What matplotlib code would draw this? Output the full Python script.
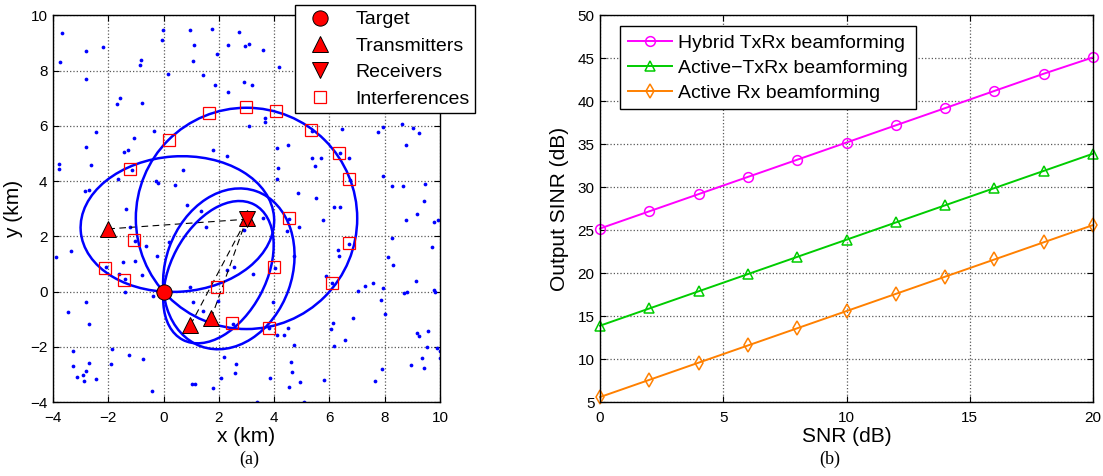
import numpy as np
import matplotlib
matplotlib.use('Agg')
import matplotlib.pyplot as plt
from matplotlib.patches import Ellipse
from matplotlib.lines import Line2D

plt.rcParams['font.family'] = ['Liberation Sans', 'DejaVu Sans']

# ---- panel (a): scene ----
target = (0.0, 0.0)
rx = (3.0, 2.62)
tx_x = [-2.0, 0.97, 1.72, 3.0]
tx_y = [2.27, -1.21, -0.97, 2.68]

intf_x = [0.18, 1.66, 2.99, 4.07, 5.34, 6.35, 6.69, 4.52, 6.69, 4.00, 6.10, 3.83, 2.47, 1.95,
          -1.22, -1.08, -2.11, -1.42]
intf_y = [5.49, 6.46, 6.67, 6.52, 5.85, 5.03, 4.08, 2.68, 1.76, 0.88, 0.32, -1.33, -1.13, 0.17,
          4.45, 1.88, 0.84, 0.42]

dots_x = [-3.69, -3.74, -2.81, -2.20, -2.79, -0.80, -0.84, -0.02, -0.04, 0.95, 1.10, 1.75, 1.93,
          1.07, 0.17, 1.44, 1.85, 2.34, 2.93, 3.09, 2.71, 2.92, 3.20, 3.61, 4.16, 2.34, -0.78,
          -1.56, -1.68, -0.34, -1.06, -2.82, -2.45, -1.44, -1.27, 1.80, 2.28, 3.08, 3.68, 3.67,
          -3.79, -3.78, -2.62, 0.71, -1.66, -0.28, -0.19, 0.41, -2.83, -2.71, -1.35, 0.83, 1.34,
          4.11, 4.51, 4.15, 4.11, 5.36, 5.69, 5.46, 6.69, 6.47, 4.85, 5.50, 6.18, 6.38, 7.76,
          7.94, 8.61, 9.02, 9.22, 8.77, 7.95, 8.25, 8.65, 9.46, 9.42, 9.16, 9.77, 9.94, 8.78,
          8.26, 9.71, 8.13, 8.29, 7.30, 7.58, 7.94, 7.03, 9.12, 9.77, 9.83, 8.69, 8.81, 7.86,
          7.99, 6.86, 6.12, 6.07, 6.55, 6.15, 9.17, 9.24, 9.55, 9.53, 9.90, 9.98, 9.98, 9.35,
          9.42, 8.94, 7.91, 7.64, 5.81, 4.51, 4.35, 4.11, 3.81, 4.70, 4.60, 4.63, 4.93, 4.55,
          3.86, 5.09, 3.37, 3.61, 4.45, 4.91, 3.22, 3.97, 4.70, 5.78, 6.30, 6.33, 5.89, -3.90,
          -3.33, -2.79, -3.46, -2.68, -1.22, -0.65, -0.25, -1.47, -1.03, -0.78, -1.39, -1.60,
          -0.37, 0.21, 0.95, 1.07, 1.41, 1.97, 1.53, 2.30, 2.56, 2.92, -3.27, -1.87, -1.24,
          -0.74, -1.91, -2.70, -3.27, -2.80, -2.90, -3.14, -2.88, -2.46, -0.41, 1.03, 1.13,
          1.79, 2.07, 2.59, 2.62, 2.17,
          5.38, 6.38, 6.73, 4.55, 6.72, 4.03, 6.08, 2.50, -1.15, -1.05, -2.08, -1.40]
dots_y = [9.37, 8.31, 8.69, 8.86, 7.69, 8.39, 8.20, 9.47, 9.11, 9.48, 8.94, 9.49, 8.60,
          8.36, 7.88, 7.83, 7.46, 8.93, 8.89, 8.95, 9.41, 7.60, 7.47, 8.75, 8.11, 7.22, 6.83,
          7.01, 6.78, 5.80, 5.55, 5.23, 5.78, 5.07, 5.11, 5.13, 4.92, 5.98, 6.29, 6.12,
          4.60, 4.45, 4.58, 4.39, 4.06, 4.01, 3.93, 3.87, 3.64, 3.67, 3.00, 3.14, 2.93,
          5.20, 5.31, 4.46, 4.08, 4.84, 4.84, 4.55, 4.84, 5.90, 3.57, 3.39, 3.08, 3.05, 5.78,
          5.96, 6.05, 5.92, 5.75, 5.29, 4.20, 3.84, 3.84, 3.90, 3.29, 2.82, 2.53, 2.59, 2.59,
          1.93, 1.60, 1.25, 0.96, 0.22, 0.30, 0.14, 0.04, 0.37, 0.05, 0.00, -0.06, -0.02, -0.31,
          -0.82, -0.95, -1.13, -1.34, -1.76, -1.95, -1.48, -1.60, -1.41, -1.99, -2.05, -2.13, -2.40, -2.39,
          -2.78, -2.66, -2.80, -3.24, -3.18, -1.33, -1.58, -1.58, -1.31, -1.94, -2.53, -2.89, -3.27, -3.46,
          -3.12, -3.98, -3.98, 2.65, 2.19, 2.33, 0.63, -0.37, 1.30, 2.59, 1.52, 1.29, 0.58, 1.25,
          1.46, -0.36, -0.75, -1.16, 2.35, 1.64, 1.28, 1.08, 1.11, 0.59, 0.00, 0.63,
          -0.14, 1.78, 0.17, -0.36, -0.70, -0.34, 2.35, 0.80, 0.88, 2.23, -2.13, -2.08, -2.29,
          -2.45, -2.60, -2.57, -2.70, -2.88, -3.01, -3.07, -3.23, -3.17, -3.58, -3.34, -3.34,
          -3.48, -3.14, -2.96, -2.63, -2.35,
          5.82, 5.00, 4.05, 2.62, 1.73, 0.85, 0.30, -1.16, 4.40, 1.83, 0.88, 0.45]

# ---- panel (b): output SINR ----
snr = [0, 2, 4, 6, 8, 10, 12, 14, 16, 18, 20]
hybrid = [25.2, 27.2, 29.2, 31.2, 33.2, 35.2, 37.2, 39.2, 41.2, 43.2, 45.1]
active_txrx = [13.9, 15.9, 17.9, 19.9, 21.9, 23.9, 25.9, 27.9, 29.9, 31.9, 33.9]
active_rx = [5.6, 7.6, 9.6, 11.6, 13.6, 15.6, 17.6, 19.6, 21.6, 23.6, 25.6]

fig = plt.figure(figsize=(11.03, 4.76), dpi=100)
ax1 = fig.add_axes([0.048, 0.155, 0.351, 0.813])
ax2 = fig.add_axes([0.544, 0.155, 0.447, 0.813])


def style_axes(ax):
    ax.grid(True, linestyle=':', color='0.35', linewidth=0.9)
    ax.tick_params(direction='in', top=True, right=True, labelsize=11, length=4)
    ax.tick_params(axis='x', pad=6)
    ax.tick_params(axis='y', pad=4)
    for s in ax.spines.values():
        s.set_linewidth(1.0)


# panel (a)
ax1.plot(dots_x, dots_y, 'o', color='b', markersize=2.7, markeredgewidth=0, zorder=2)
for tx, ty in zip(tx_x, tx_y):
    d1 = np.hypot(tx - target[0], ty - target[1])
    d2 = np.hypot(rx[0] - target[0], rx[1] - target[1])
    a = (d1 + d2) / 2
    c = np.hypot(rx[0] - tx, rx[1] - ty) / 2
    b = np.sqrt(a * a - c * c)
    ang = np.degrees(np.arctan2(rx[1] - ty, rx[0] - tx))
    ax1.add_patch(Ellipse(((tx + rx[0]) / 2, (ty + rx[1]) / 2), 2 * a, 2 * b, angle=ang,
                          fill=False, edgecolor='b', linewidth=1.8, zorder=3))
    if c > 0.1:
        ax1.plot([tx, rx[0]], [ty, rx[1]], color='k', linestyle=(0, (6, 4)), linewidth=0.8, zorder=3)
ax1.plot(intf_x, intf_y, 's', markerfacecolor='none', markeredgecolor='r', markersize=9,
         markeredgewidth=0.9, zorder=4)
ax1.plot(tx_x, tx_y, '^', color='r', markeredgecolor='k', markersize=11, markeredgewidth=0.7, zorder=5)
ax1.plot([rx[0]], [rx[1]], 'v', color='r', markeredgecolor='k', markersize=11, markeredgewidth=0.7, zorder=5)
ax1.plot([target[0]], [target[1]], 'o', color='r', markeredgecolor='k', markersize=11,
         markeredgewidth=0.7, zorder=6)
ax1.set_xlim(-4, 10)
ax1.set_ylim(-4, 10)
ax1.set_xticks(range(-4, 11, 2))
ax1.set_yticks(range(-4, 11, 2))
ax1.set_xticklabels(['\u22124', '\u22122', '0', '2', '4', '6', '8', '10'])
ax1.set_yticklabels(['\u22124', '\u22122', '0', '2', '4', '6', '8', '10'])
style_axes(ax1)
ax1.set_xlabel('x (km)', fontsize=15, labelpad=2)
ax1.set_ylabel('y (km)', fontsize=15, labelpad=5)

handles = [
    Line2D([], [], linestyle='none', marker='o', color='r', markeredgecolor='k', markersize=11, markeredgewidth=0.7),
    Line2D([], [], linestyle='none', marker='^', color='r', markeredgecolor='k', markersize=11, markeredgewidth=0.7),
    Line2D([], [], linestyle='none', marker='v', color='r', markeredgecolor='k', markersize=11, markeredgewidth=0.7),
    Line2D([], [], linestyle='none', marker='s', markerfacecolor='none', markeredgecolor='r', markersize=9, markeredgewidth=0.9),
]
leg1 = ax1.legend(handles, ['Target', 'Transmitters', 'Receivers', 'Interferences'],
                  loc='upper left', bbox_to_anchor=(0.2675, 0.9895), bbox_transform=fig.transFigure,
                  borderaxespad=0, fontsize=14, fancybox=False, edgecolor='k', framealpha=1,
                  handlelength=2.0, handletextpad=0.8, labelspacing=0.45, borderpad=0.3)
leg1.get_frame().set_linewidth(1.0)
leg1.set_zorder(10)

# panel (b)
ax2.plot(snr, hybrid, '-o', color=(1, 0, 1), markerfacecolor='none', markersize=7,
         markeredgewidth=1.1, linewidth=1.4, label='Hybrid TxRx beamforming', clip_on=False)
ax2.plot(snr, active_txrx, '-^', color=(0, 0.8, 0), markerfacecolor='none', markersize=7,
         markeredgewidth=1.1, linewidth=1.4, label='Active\u2212TxRx beamforming', clip_on=False)
ax2.plot(snr, active_rx, '-d', color=(1, 0.5, 0), markerfacecolor='none', markersize=7,
         markeredgewidth=1.1, linewidth=1.4, label='Active Rx beamforming', clip_on=False)
ax2.set_xlim(0, 20)
ax2.set_ylim(5, 50)
ax2.set_xticks(range(0, 21, 5))
ax2.set_yticks(range(5, 51, 5))
style_axes(ax2)
ax2.set_xlabel('SNR (dB)', fontsize=15, labelpad=2)
ax2.set_ylabel('Output SINR (dB)', fontsize=15, labelpad=6)
leg2 = ax2.legend(loc='upper left', bbox_to_anchor=(0.562, 0.945), bbox_transform=fig.transFigure,
                  borderaxespad=0, fontsize=14, fancybox=False, edgecolor='k', framealpha=1,
                  handlelength=2.3, handletextpad=0.3, labelspacing=0.38, borderpad=0.4)
leg2.get_frame().set_linewidth(1.0)

fig.text(0.226, 0.025, '(a)', fontsize=13, family=['Liberation Serif', 'DejaVu Serif'], ha='center')
fig.text(0.752, 0.025, '(b)', fontsize=13, family=['Liberation Serif', 'DejaVu Serif'], ha='center')

fig.savefig('out.png', dpi=100)
